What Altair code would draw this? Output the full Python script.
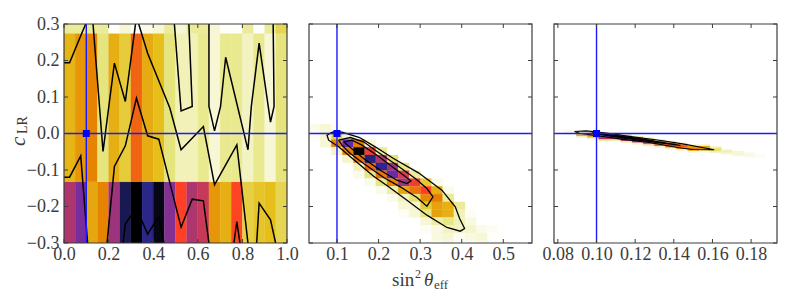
import altair as alt
import pandas as pd

# colour map stops (value 0 = white, value 1 = black)
CMAP_STOPS = [0, .125, .25, .375, .5, .625, .75, .875, 1]
CMAP_COLORS = ["#ffffff", "#e6e680", "#e6bf1a", "#e68000", "#ff4026", "#993380", "#4d26bf", "#262680", "#000000"]

TRUE_X = [0.1]
TRUE_Y = [0.0]

# ---- panel 1: sin2 theta vs c_LR, 20 columns, three wide rows
P1_X_EDGES = [i / 20 for i in range(21)]
P1_Y_EDGES = [-0.3, -0.132, 0.2745, 0.3]
P1_BOTTOM = [.60, .68, .30, .37, .62, .92, 1.0, .86, .98, .66, .50, .60, .57, .33, .28, .49, .20, .23, .25, .18]
P1_MIDDLE = [.27, .33, .37, .13, .28, .21, .43, .29, .25, .13, .07, .07, .11, .04, .11, .11, .06, .11, .04, .13]
P1_TOP = [.10, .10, .10, .10, .005, .04, .005, .025, .04, .10, .04, .10, .10, .04, .005, .005, .10, .005, .10, .18]

P1_CONTOURS = [
    [(0, .1936), (.025, .1936), (.075, .2676), (.125, .34), (.175, -.0493), (.226, .1927), (.275, .0877),
     (.325, .32), (.375, .22), (.475, .069), (.525, -.0447), (.625, .0192), (.675, -.1406), (.775, -.031), (.825, -.3005)],
    [(.495, .3), (.525, .062), (.575, .074), (.56, .3)],
    [(.65, .3), (.65, .074), (.675, .0073), (.702, .074), (.725, .209), (.825, -.0447), (.84, .074),
     (.875, .2475), (.926, .031), (.942, .074), (.938, .3)],
    [(0, -.1196), (.025, -.1196), (.075, -.0612), (.106, -.3)],
    [(.193, -.3), (.226, -.0904), (.275, -.0338), (.325, .0968), (.375, -.0064), (.425, -.0155), (.475, -.1361),
     (.525, -.2566), (.575, -.18), (.625, -.1845), (.65, -.3)],
    [(.265, -.3), (.275, -.2475), (.325, -.2046), (.375, -.2758), (.425, -.2274), (.448, -.3)],
    [(.762, -.3), (.775, -.2411), (.789, -.3)],
    [(.864, -.3), (.875, -.1909), (.926, -.2365), (.949, -.3)],
]

# ---- panel 2: row (from the top): first column, values
P2_X_START, P2_X_STEP = 0.0327, 0.0268
P2_Y_START, P2_Y_STEP = 0.0263, 0.02137
P2_ROWS = [
    (0, [.02, .04, .01]),
    (0, [.01, .05, .20, .05]),
    (1, [.04, .36, .72, .38, .04]),
    (2, [.05, .38, 1.0, .52, .10]),
    (3, [.05, .40, .88, .60, .14]),
    (4, [.07, .42, .85, .62, .12]),
    (4, [.02, .12, .40, .70, .55, .10]),
    (5, [.02, .12, .36, .62, .52, .22, .02]),
    (6, [.02, .08, .30, .40, .50, .28, .02]),
    (7, [.02, .06, .14, .36, .38, .10]),
    (8, [.04, .05, .22, .31, .28, .10]),
    (8, [.01, .04, .12, .31, .28, .07, .01]),
    (10, [.04, .09, .12, .07, .03]),
    (10, [.01, .03, .06, .06, .05, .02, .01]),
    (11, [.03, .04, .01, .03, .04, .005]),
    (12, [.02, 0, 0, .02]),
]
P2_CONTOURS = [
    [(.0856, .0018), (.092, .0046), (.112, .0037), (.1545, -.011), (.192, -.0365), (.236, -.0685), (.296, -.1078),
     (.3524, -.1553), (.3845, -.2009), (.3949, -.2329), (.4069, -.2603), (.3965, -.2676), (.3644, -.2575),
     (.3163, -.2237), (.2683, -.1826), (.2242, -.1461), (.1881, -.1169), (.14, -.0712), (.104, -.0365),
     (.08, -.0183), (.076, -.0046), (.0856, .0018)],
    [(.104, -.0183), (.132, -.011), (.1641, -.0228), (.192, -.0457), (.2442, -.0868), (.2883, -.1233), (.3163, -.1507),
     (.3308, -.1735), (.3163, -.1991), (.2923, -.1753), (.2522, -.1461), (.2122, -.1205), (.1641, -.0822),
     (.132, -.0548), (.112, -.032), (.104, -.0183)],
    [(.116, -.0228), (.136, -.0183), (.1601, -.032), (.1962, -.0594), (.2442, -.1005), (.2779, -.1297), (.2683, -.137),
     (.2442, -.1279), (.2042, -.1005), (.1641, -.0685), (.14, -.0457), (.116, -.0228)],
]

# ---- panel 3: column (left to right): first row, values
P3_X_START, P3_X_STEP = 0.078, 0.00577
P3_Y_START, P3_Y_STEP = 0.0107, 0.0045
P3_COLS = [
    (0, [.015]),
    (0, [.02, .04, .01]),
    (1, [.04, .25, .30, .05]),
    (1, [.05, .35, .45, .30, .04]),
    (2, [.08, .50, .70, .60, .10]),
    (2, [.10, .60, .75, .60, .08]),
    (3, [.10, .65, .85, .60, .08]),
    (4, [.10, .60, .90, .60, .05]),
    (5, [.10, .55, .72, .50, .06]),
    (6, [.09, .50, .60, .45, .05]),
    (7, [.08, .45, .55, .40, .05]),
    (8, [.06, .40, .45, .35, .04]),
    (9, [.05, .30, .40, .30, .04]),
    (9, [.05, .30, .35, .15, .03]),
    (10, [.04, .12, .16, .08]),
    (12, [.05, .08, .05]),
    (13, [.04, .05, .04]),
    (14, [.025, .035, .02]),
    (15, [.01, .01]),
]
P3_CONTOURS = [
    [(.0886, .0055), (.0947, .0073), (.105, .0012), (.1188, -.0092), (.1325, -.0185), (.1446, -.0285), (.1609, -.0447),
     (.1497, -.0437), (.142, -.0385), (.1274, -.0248), (.1136, -.0162), (.1015, -.0070), (.0912, .0009), (.0886, .0055)],
    [(.0975, .002), (.12, -.0125), (.1435, -.0325), (.125, -.0205), (.104, -.0045), (.0975, .002)],
    [(.105, -.002), (.12, -.0135), (.128, -.0195), (.112, -.0095), (.105, -.002)],
]

X_TICKS = [
    [0.0, 0.2, 0.4, 0.6, 0.8, 1.0],
    [0.1, 0.2, 0.3, 0.4, 0.5],
    [0.08, 0.10, 0.12, 0.14, 0.16, 0.18],
]
X_DOMAINS = [[0, 1], [0.0327, 0.569], [0.078, 0.1934]]
X_FORMATS = [".1f", ".1f", ".2f"]
Y_TICKS = [-0.3, -0.2, -0.1, 0.0, 0.1, 0.2, 0.3]
Y_DOMAIN = [-0.3, 0.3]
CONTOUR_WIDTHS = [1.5, 1.3, 1.1]

W, H = 223, 219
FONT = "Liberation Serif"
TXT = "#3c3c3c"
FRAME = "#3c3c3c"
BLUE = "#1a1aff"
TICK = 4


def p1_cells():
    rows = []
    for j, vals in enumerate([P1_BOTTOM, P1_MIDDLE, P1_TOP]):
        for i, v in enumerate(vals):
            rows.append(dict(x0=P1_X_EDGES[i], x1=P1_X_EDGES[i + 1], y0=P1_Y_EDGES[j], y1=P1_Y_EDGES[j + 1], v=v))
    return pd.DataFrame(rows)


def p2_cells():
    rows = []
    for r, (start, vals) in enumerate(P2_ROWS):
        for k, v in enumerate(vals):
            i = start + k
            rows.append(dict(x0=P2_X_START + i * P2_X_STEP, x1=P2_X_START + (i + 1) * P2_X_STEP,
                             y1=P2_Y_START - r * P2_Y_STEP, y0=P2_Y_START - (r + 1) * P2_Y_STEP, v=v))
    return pd.DataFrame(rows)


def p3_cells():
    rows = []
    for i, (start, vals) in enumerate(P3_COLS):
        for k, v in enumerate(vals):
            r = start + k
            rows.append(dict(x0=P3_X_START + i * P3_X_STEP, x1=P3_X_START + (i + 1) * P3_X_STEP,
                             y1=P3_Y_START - r * P3_Y_STEP, y0=P3_Y_START - (r + 1) * P3_Y_STEP, v=v))
    return pd.DataFrame(rows)


def contour_df(paths):
    rows = []
    for p, path in enumerate(paths):
        for i, (x, y) in enumerate(path):
            rows.append(dict(p=p, i=i, x=x, y=y))
    return pd.DataFrame(rows)


def panel(cells, contours, idx, extra=None):
    xs = alt.Scale(domain=X_DOMAINS[idx], nice=False, zero=False)
    ys = alt.Scale(domain=Y_DOMAIN, nice=False, zero=False)
    cs = alt.Scale(domain=CMAP_STOPS, range=CMAP_COLORS, interpolate="rgb")
    x_axis = alt.Axis(values=X_TICKS[idx], format=X_FORMATS[idx], ticks=False, domain=False, grid=False, title=None,
                      labelFont=FONT, labelFontSize=18, labelColor=TXT, labelPadding=2,
                      labelFlush=False, labelOverlap=False, labelBound=False)
    y_axis = None
    if idx == 0:
        y_axis = alt.Axis(values=Y_TICKS, format=".1f", ticks=False, domain=False, grid=False, title=None,
                          labelFont=FONT, labelFontSize=18, labelColor=TXT, labelPadding=5,
                          labelFlush=False, labelOverlap=False, labelBound=False)
    heat = alt.Chart(cells).mark_rect(clip=True, strokeWidth=0.25).encode(
        x=alt.X("x0:Q", scale=xs, axis=x_axis), x2="x1:Q",
        y=alt.Y("y0:Q", scale=ys, axis=y_axis), y2="y1:Q",
        color=alt.Color("v:Q", scale=cs, legend=None),
        stroke=alt.Color("v:Q", scale=cs, legend=None),
    )
    lines = alt.Chart(contours).mark_line(clip=True, color="black", strokeWidth=CONTOUR_WIDTHS[idx]).encode(
        x=alt.X("x:Q", scale=xs, axis=x_axis), y=alt.Y("y:Q", scale=ys, axis=y_axis),
        detail="p:N", order="i:Q",
    )
    vline = alt.Chart(pd.DataFrame({"x": TRUE_X})).mark_rule(color=BLUE, strokeWidth=1.4, clip=True).encode(
        x=alt.X("x:Q", scale=xs, axis=x_axis))
    hline = alt.Chart(pd.DataFrame({"y": TRUE_Y})).mark_rule(color=BLUE, strokeWidth=1.4, clip=True).encode(
        y=alt.Y("y:Q", scale=ys, axis=y_axis))
    pt = alt.Chart(pd.DataFrame({"x": TRUE_X, "y": TRUE_Y})).mark_point(
        shape="square", filled=True, size=49, color="#0000ff", opacity=1).encode(
        x=alt.X("x:Q", scale=xs, axis=x_axis), y=alt.Y("y:Q", scale=ys, axis=y_axis))

    xt = pd.DataFrame({"x": X_TICKS[idx]})
    yt = pd.DataFrame({"y": Y_TICKS})
    tick_layers = []
    for a, b in [(H, H - TICK), (0, TICK)]:
        tick_layers.append(alt.Chart(xt).mark_rule(color=FRAME, strokeWidth=1).encode(
            x=alt.X("x:Q", scale=xs, axis=x_axis), y=alt.value(a), y2=alt.value(b)))
    for a, b in [(0, TICK), (W, W - TICK)]:
        tick_layers.append(alt.Chart(yt).mark_rule(color=FRAME, strokeWidth=1).encode(
            y=alt.Y("y:Q", scale=ys, axis=y_axis), x=alt.value(a), x2=alt.value(b)))
    frame = alt.Chart(pd.DataFrame({"a": [0]})).mark_rect(fillOpacity=0, stroke=FRAME, strokeWidth=1.2).encode(
        x=alt.value(0), x2=alt.value(W), y=alt.value(0), y2=alt.value(H))

    layers = [heat, lines, vline, hline, pt] + tick_layers + [frame]
    if extra:
        layers += extra
    return alt.layer(*layers).properties(width=W, height=H)


def label(text, x, y, size, italic=False, angle=0):
    mk = alt.Chart(pd.DataFrame({"t": [text]})).mark_text(
        font=FONT, fontSize=size, fontStyle="italic" if italic else "normal", color=TXT,
        align="left", baseline="alphabetic", angle=angle)
    return mk.encode(text="t:N", x=alt.value(x), y=alt.value(y))


y_title = [
    label("c", -39, 122, 21, italic=True, angle=270),
    label("LR", -37, 110, 14, angle=270),
]
x_title = [
    label("sin", 83, 262, 19),
    label("2", 106, 254, 12),
    label("θ", 115, 262, 19, italic=True),
    label("eff", 125, 265, 13),
]

chart = alt.hconcat(
    panel(p1_cells(), contour_df(P1_CONTOURS), 0, y_title),
    panel(p2_cells(), contour_df(P2_CONTOURS), 1, x_title),
    panel(p3_cells(), contour_df(P3_CONTOURS), 2),
    spacing=22, bounds="flush",
).resolve_scale(color="shared", x="independent", y="independent").properties(
    padding={"left": 0, "top": 7, "right": 5, "bottom": 5}
).configure_view(stroke=None)

chart.save("out.html", embed_options={"renderer": "svg", "actions": False})
